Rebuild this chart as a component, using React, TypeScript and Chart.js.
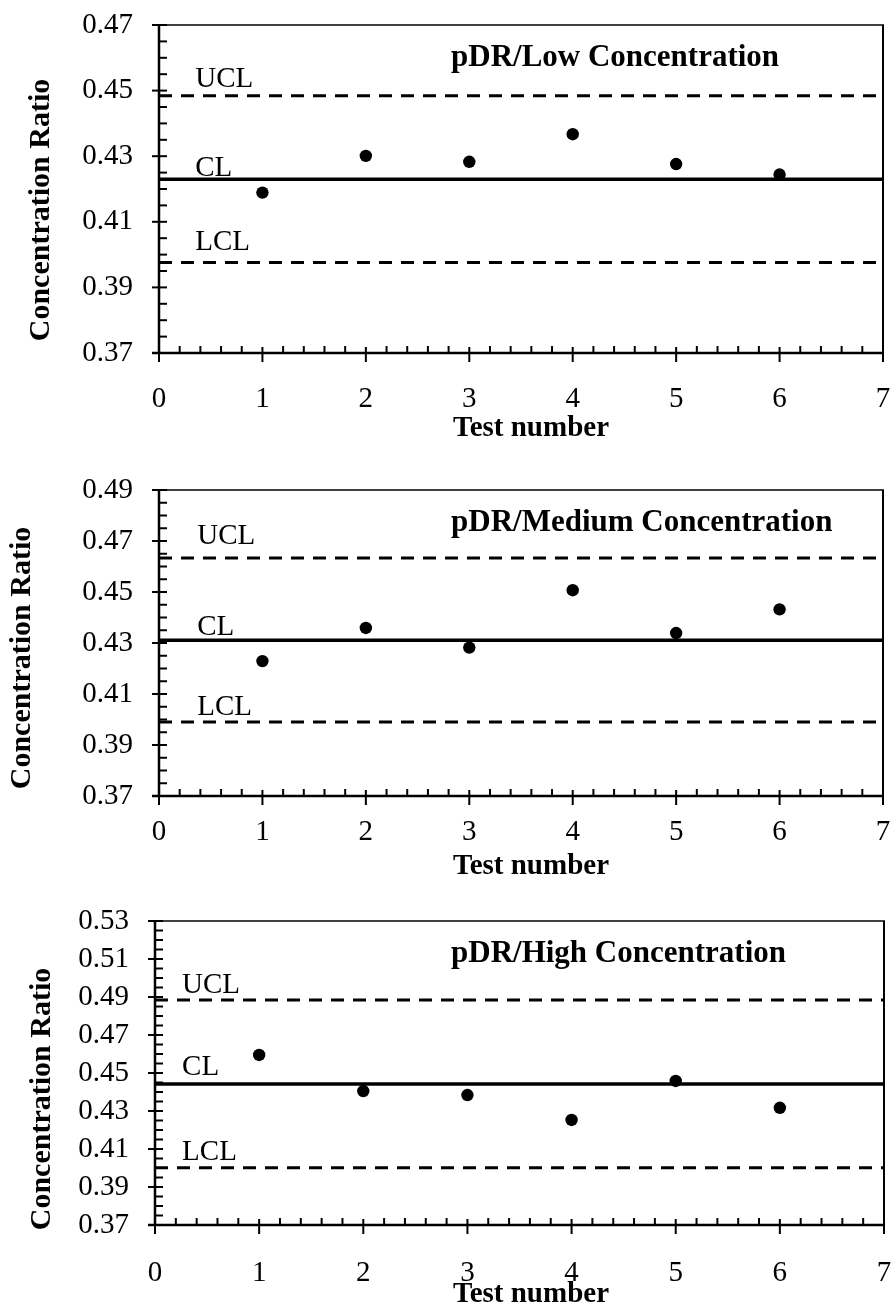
import React, { useEffect, useRef } from "react";
import { Chart, registerables } from "chart.js";

Chart.register(...registerables);

// ---------- data ----------
const testNumbers = [1, 2, 3, 4, 5, 6];
const xTickValues = [0, 1, 2, 3, 4, 5, 6, 7];
const limitNames = ["UCL", "CL", "LCL"];

const panelTitles = [
  "pDR/Low Concentration",
  "pDR/Medium Concentration",
  "pDR/High Concentration",
];

const lowValues = [0.4189, 0.4301, 0.4283, 0.4367, 0.4276, 0.4244];
const mediumValues = [0.4229, 0.4359, 0.4282, 0.4507, 0.4339, 0.4432];
const highValues = [0.4595, 0.4405, 0.4384, 0.4253, 0.4458, 0.4317];

// UCL, CL, LCL
const lowLimits = [0.4484, 0.423, 0.3976];
const mediumLimits = [0.4633, 0.4311, 0.399];
const highLimits = [0.4884, 0.4442, 0.4001];

const lowYTicks = [0.37, 0.39, 0.41, 0.43, 0.45, 0.47];
const mediumYTicks = [0.37, 0.39, 0.41, 0.43, 0.45, 0.47, 0.49];
const highYTicks = [0.37, 0.39, 0.41, 0.43, 0.45, 0.47, 0.49, 0.51, 0.53];

const yTitle = "Concentration Ratio";
const xTitle = "Test number";

// ---------- layout (pixels) ----------
const FONT = "'Liberation Serif', 'Times New Roman', serif";
const W = 894;

type Layout = {
  top: number;
  height: number;
  left: number;
  right: number;
  areaTop: number;
  areaBottom: number;
  xLabelPad: number;
  xTitleOffset: number;
  yTitleX: number;
  yTitleDy: number;
  limitLabelX: number;
  limitLabelOffsets: number[];
};

const layouts: Layout[] = [
  { top: 0, height: 440, left: 159, right: 883, areaTop: 25, areaBottom: 353, xLabelPad: 29, xTitleOffset: 83, yTitleX: 41, yTitleDy: 21, limitLabelX: 0.35, limitLabelOffsets: [9, 3, 12] },
  { top: 440, height: 445, left: 159, right: 883, areaTop: 50, areaBottom: 356, xLabelPad: 19, xTitleOffset: 78, yTitleX: 22, yTitleDy: 15, limitLabelX: 0.37, limitLabelOffsets: [14, 5, 7] },
  { top: 885, height: 424, left: 155, right: 884, areaTop: 36, areaBottom: 340, xLabelPad: 31, xTitleOffset: 77, yTitleX: 42, yTitleDy: 26, limitLabelX: 0.26, limitLabelOffsets: [7, 9, 8] },
];

const panelValues = [lowValues, mediumValues, highValues];
const panelLimits = [lowLimits, mediumLimits, highLimits];
const panelYTicks = [lowYTicks, mediumYTicks, highYTicks];

const zeroPadding = (s: any) => {
  s.paddingTop = 0;
  s.paddingBottom = 0;
  s.paddingLeft = 0;
  s.paddingRight = 0;
};

const decorPlugin = {
  id: "decor",
  afterDraw(chart: any, _args: any, opts: any) {
    const { ctx, chartArea: a } = chart;
    const xs = chart.scales.x;
    const ys = chart.scales.y;
    const L: Layout = opts.layout;
    ctx.save();
    ctx.strokeStyle = "#000";
    ctx.fillStyle = "#000";
    const seg = (x1: number, y1: number, x2: number, y2: number, w: number) => {
      ctx.lineWidth = w;
      ctx.setLineDash([]);
      ctx.beginPath();
      ctx.moveTo(x1, y1);
      ctx.lineTo(x2, y2);
      ctx.stroke();
    };
    // frame
    seg(a.left, a.top, a.right + 1, a.top, 1.5);
    seg(a.right, a.top, a.right, a.bottom, 2);
    seg(a.left, a.top - 1, a.left, a.bottom + 1, 2.5);
    seg(a.left - 7, a.bottom, a.right + 1, a.bottom, 2.5);
    // y ticks every 0.005, major every 0.02
    const yMin = ys.min, yMax = ys.max;
    const nY = Math.round((yMax - yMin) / 0.005);
    for (let k = 0; k <= nY; k++) {
      const py = ys.getPixelForValue(yMin + k * 0.005);
      if (k % 4 === 0) seg(a.left - 7, py, a.left + 8, py, 2);
      else seg(a.left, py, a.left + 8, py, 2);
    }
    // x ticks every 0.2, major every 1
    const nX = Math.round((xs.max - xs.min) / 0.2);
    for (let k = 0; k <= nX; k++) {
      const px = xs.getPixelForValue(xs.min + k * 0.2);
      if (k % 5 === 0) seg(px, a.bottom - 6, px, a.bottom + 9, 2);
      else seg(px, a.bottom - 7, px, a.bottom, 2);
    }
    // limit labels
    ctx.font = `29px ${FONT}`;
    ctx.textAlign = "left";
    ctx.textBaseline = "alphabetic";
    opts.limits.forEach((v: number, i: number) => {
      const px = xs.getPixelForValue(L.limitLabelX);
      const py = ys.getPixelForValue(v) - L.limitLabelOffsets[i];
      ctx.fillText(limitNames[i], px, py);
    });
    // panel title
    ctx.font = `bold 31px ${FONT}`;
    ctx.fillText(opts.title, 451, a.top + 41);
    // x title
    ctx.font = `bold 29px ${FONT}`;
    ctx.textAlign = "center";
    ctx.fillText(xTitle, 531, a.bottom + L.xTitleOffset);
    // y title
    ctx.save();
    ctx.translate(L.yTitleX, (a.top + a.bottom) / 2 + L.yTitleDy);
    ctx.rotate(-Math.PI / 2);
    ctx.font = `bold 30px ${FONT}`;
    ctx.textAlign = "center";
    ctx.textBaseline = "middle";
    ctx.fillText(yTitle, 0, 0);
    ctx.restore();
    ctx.restore();
  },
};

function Panel({ index }: { index: number }) {
  const ref = useRef<HTMLCanvasElement>(null);
  const L = layouts[index];
  useEffect(() => {
    const values = panelValues[index];
    const limits = panelLimits[index];
    const yTicks = panelYTicks[index];
    const lineSets = limits.map((v, i) => ({
      label: limitNames[i],
      data: [
        { x: xTickValues[0], y: v },
        { x: xTickValues[xTickValues.length - 1], y: v },
      ],
      showLine: true,
      borderColor: "#000",
      borderWidth: i === 1 ? 3.5 : 3,
      borderDash: i === 1 ? [] : [13, 9],
      pointRadius: 0,
      fill: false,
    }));
    const chart = new Chart(ref.current as HTMLCanvasElement, {
      type: "scatter",
      data: {
        datasets: [
          ...lineSets,
          {
            label: "ratio",
            data: testNumbers.map((t, i) => ({ x: t, y: values[i] })),
            showLine: false,
            pointRadius: 6.2,
            pointBackgroundColor: "#000",
            pointBorderWidth: 0,
            backgroundColor: "#000",
          },
        ] as any,
      },
      options: {
        responsive: false,
        maintainAspectRatio: false,
        animation: false,
        events: [],
        layout: { padding: { left: 0, top: L.areaTop, right: W - L.right, bottom: 0 } },
        plugins: {
          legend: { display: false },
          tooltip: { enabled: false },
          decor: { layout: L, limits, title: panelTitles[index] },
        } as any,
        scales: {
          x: {
            type: "linear",
            min: xTickValues[0],
            max: xTickValues[xTickValues.length - 1],
            afterBuildTicks: (s: any) => {
              s.ticks = xTickValues.map((v) => ({ value: v }));
            },
            afterFit: (s: any) => {
              s.height = L.height - L.areaBottom;
              zeroPadding(s);
            },
            grid: { display: false, drawTicks: false },
            border: { display: false },
            ticks: {
              padding: L.xLabelPad,
              color: "#000",
              font: { family: FONT, size: 29 },
              callback: (v: any) => String(v),
              maxRotation: 0,
              autoSkip: false,
            },
          },
          y: {
            type: "linear",
            min: yTicks[0],
            max: yTicks[yTicks.length - 1],
            afterBuildTicks: (s: any) => {
              s.ticks = yTicks.map((v) => ({ value: v }));
            },
            afterFit: (s: any) => {
              s.width = L.left;
              zeroPadding(s);
            },
            grid: { display: false, drawTicks: false },
            border: { display: false },
            ticks: {
              padding: 26,
              color: "#000",
              font: { family: FONT, size: 29 },
              callback: (v: any) => Number(v).toFixed(2),
              autoSkip: false,
            },
          },
        },
      },
      plugins: [decorPlugin],
    });
    return () => chart.destroy();
  }, [index]);
  return (
    <canvas
      ref={ref}
      width={W}
      height={L.height}
      style={{ position: "absolute", left: 0, top: L.top, width: W, height: L.height }}
    />
  );
}

export default function App() {
  return (
    <div style={{ position: "absolute", left: 0, top: 0, width: W, height: 1309, background: "#fff" }}>
      {layouts.map((_, i) => (
        <Panel key={i} index={i} />
      ))}
    </div>
  );
}
